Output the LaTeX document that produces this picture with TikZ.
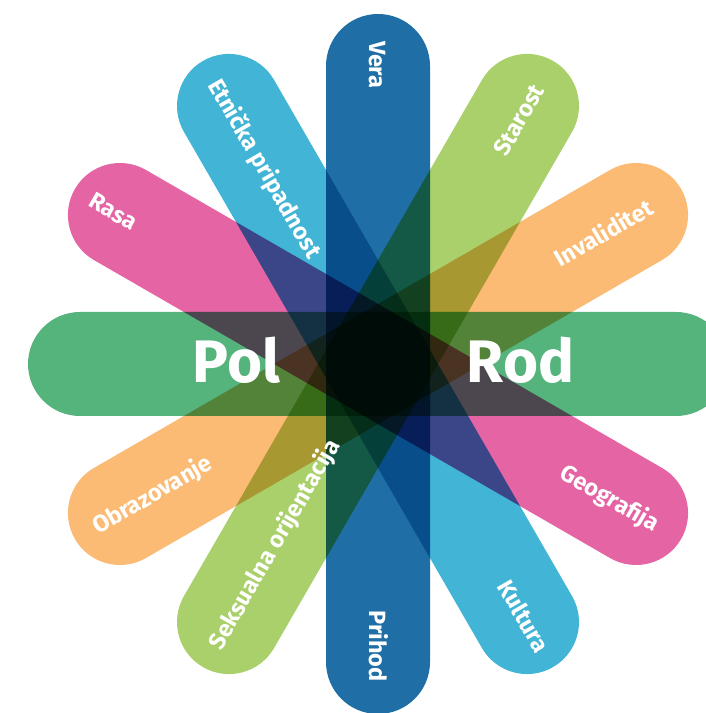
\documentclass[tikz,border=0pt]{standalone}
\usepackage{fontspec}
\setmainfont{Fira Sans}
\definecolor{cgreen}{HTML}{55B37C}
\definecolor{cpink}{HTML}{E564A3}
\definecolor{cblue}{HTML}{1F6EA5}
\definecolor{clblue}{HTML}{42B5D6}
\definecolor{clgreen}{HTML}{AAD06C}
\definecolor{corange}{HTML}{FBBB74}
\tikzset{
  bar/.style={line width=104pt, line cap=round, draw=#1},
  lbl/.style={text=white, font=\fontsize{23.5}{23.5}\selectfont\bfseries, inner sep=0pt, text height=16.2pt, text depth=0pt},
  big/.style={text=white, font=\fontsize{60}{60}\selectfont\bfseries, inner sep=0pt, anchor=base}
}
\begin{document}
\begin{tikzpicture}[x=1pt,y=1pt]
\useasboundingbox (0,0) rectangle (706,713);
\begin{scope}[shift={(378,349)}]
  \begin{scope}[blend group=multiply]
    \draw[bar=cgreen]   (0:298) -- (180:298);
    \draw[bar=cpink]    (150:298) -- (330:298);
    \draw[bar=clblue]   (120:298) -- (300:298);
    \draw[bar=cblue]    (90:298) -- (270:298);
    \draw[bar=clgreen]  (60:298) -- (240:298);
    \draw[bar=corange]  (30:298) -- (210:298);
  \end{scope}
  \node[lbl, rotate=-90, anchor=west] (vera) at (90:323) {Vera};
  \node[lbl, rotate=-90, anchor=east] (prihod) at (270:318) {Prihod};
  \node[lbl, rotate=-60, anchor=west] (etn) at (120:327) {Etnička pripadnost};
  \node[lbl, rotate=-60, anchor=east] (kult) at (300:331) {Kultura};
  \node[lbl, rotate=-30, anchor=west] (rasa) at (150:331) {Rasa};
  \node[lbl, rotate=-30, anchor=east] (geo) at (330:323) {Geografija};
  \node[lbl, rotate=60, anchor=east] (star) at (60:321) {Starost};
  \node[lbl, rotate=60, anchor=west] (seks) at (240:327) {Seksualna orijentacija};
  \node[lbl, rotate=30, anchor=east] (inv) at (30:316) {Invaliditet};
  \node[lbl, rotate=30, anchor=west] (obr) at (210:328) {Obrazovanje};
  \node[big] (pol) at (-141.5,-19) {Pol};
  \node[big] (rod) at (142.5,-19) {Rod};
\end{scope}
\end{tikzpicture}
\end{document}
